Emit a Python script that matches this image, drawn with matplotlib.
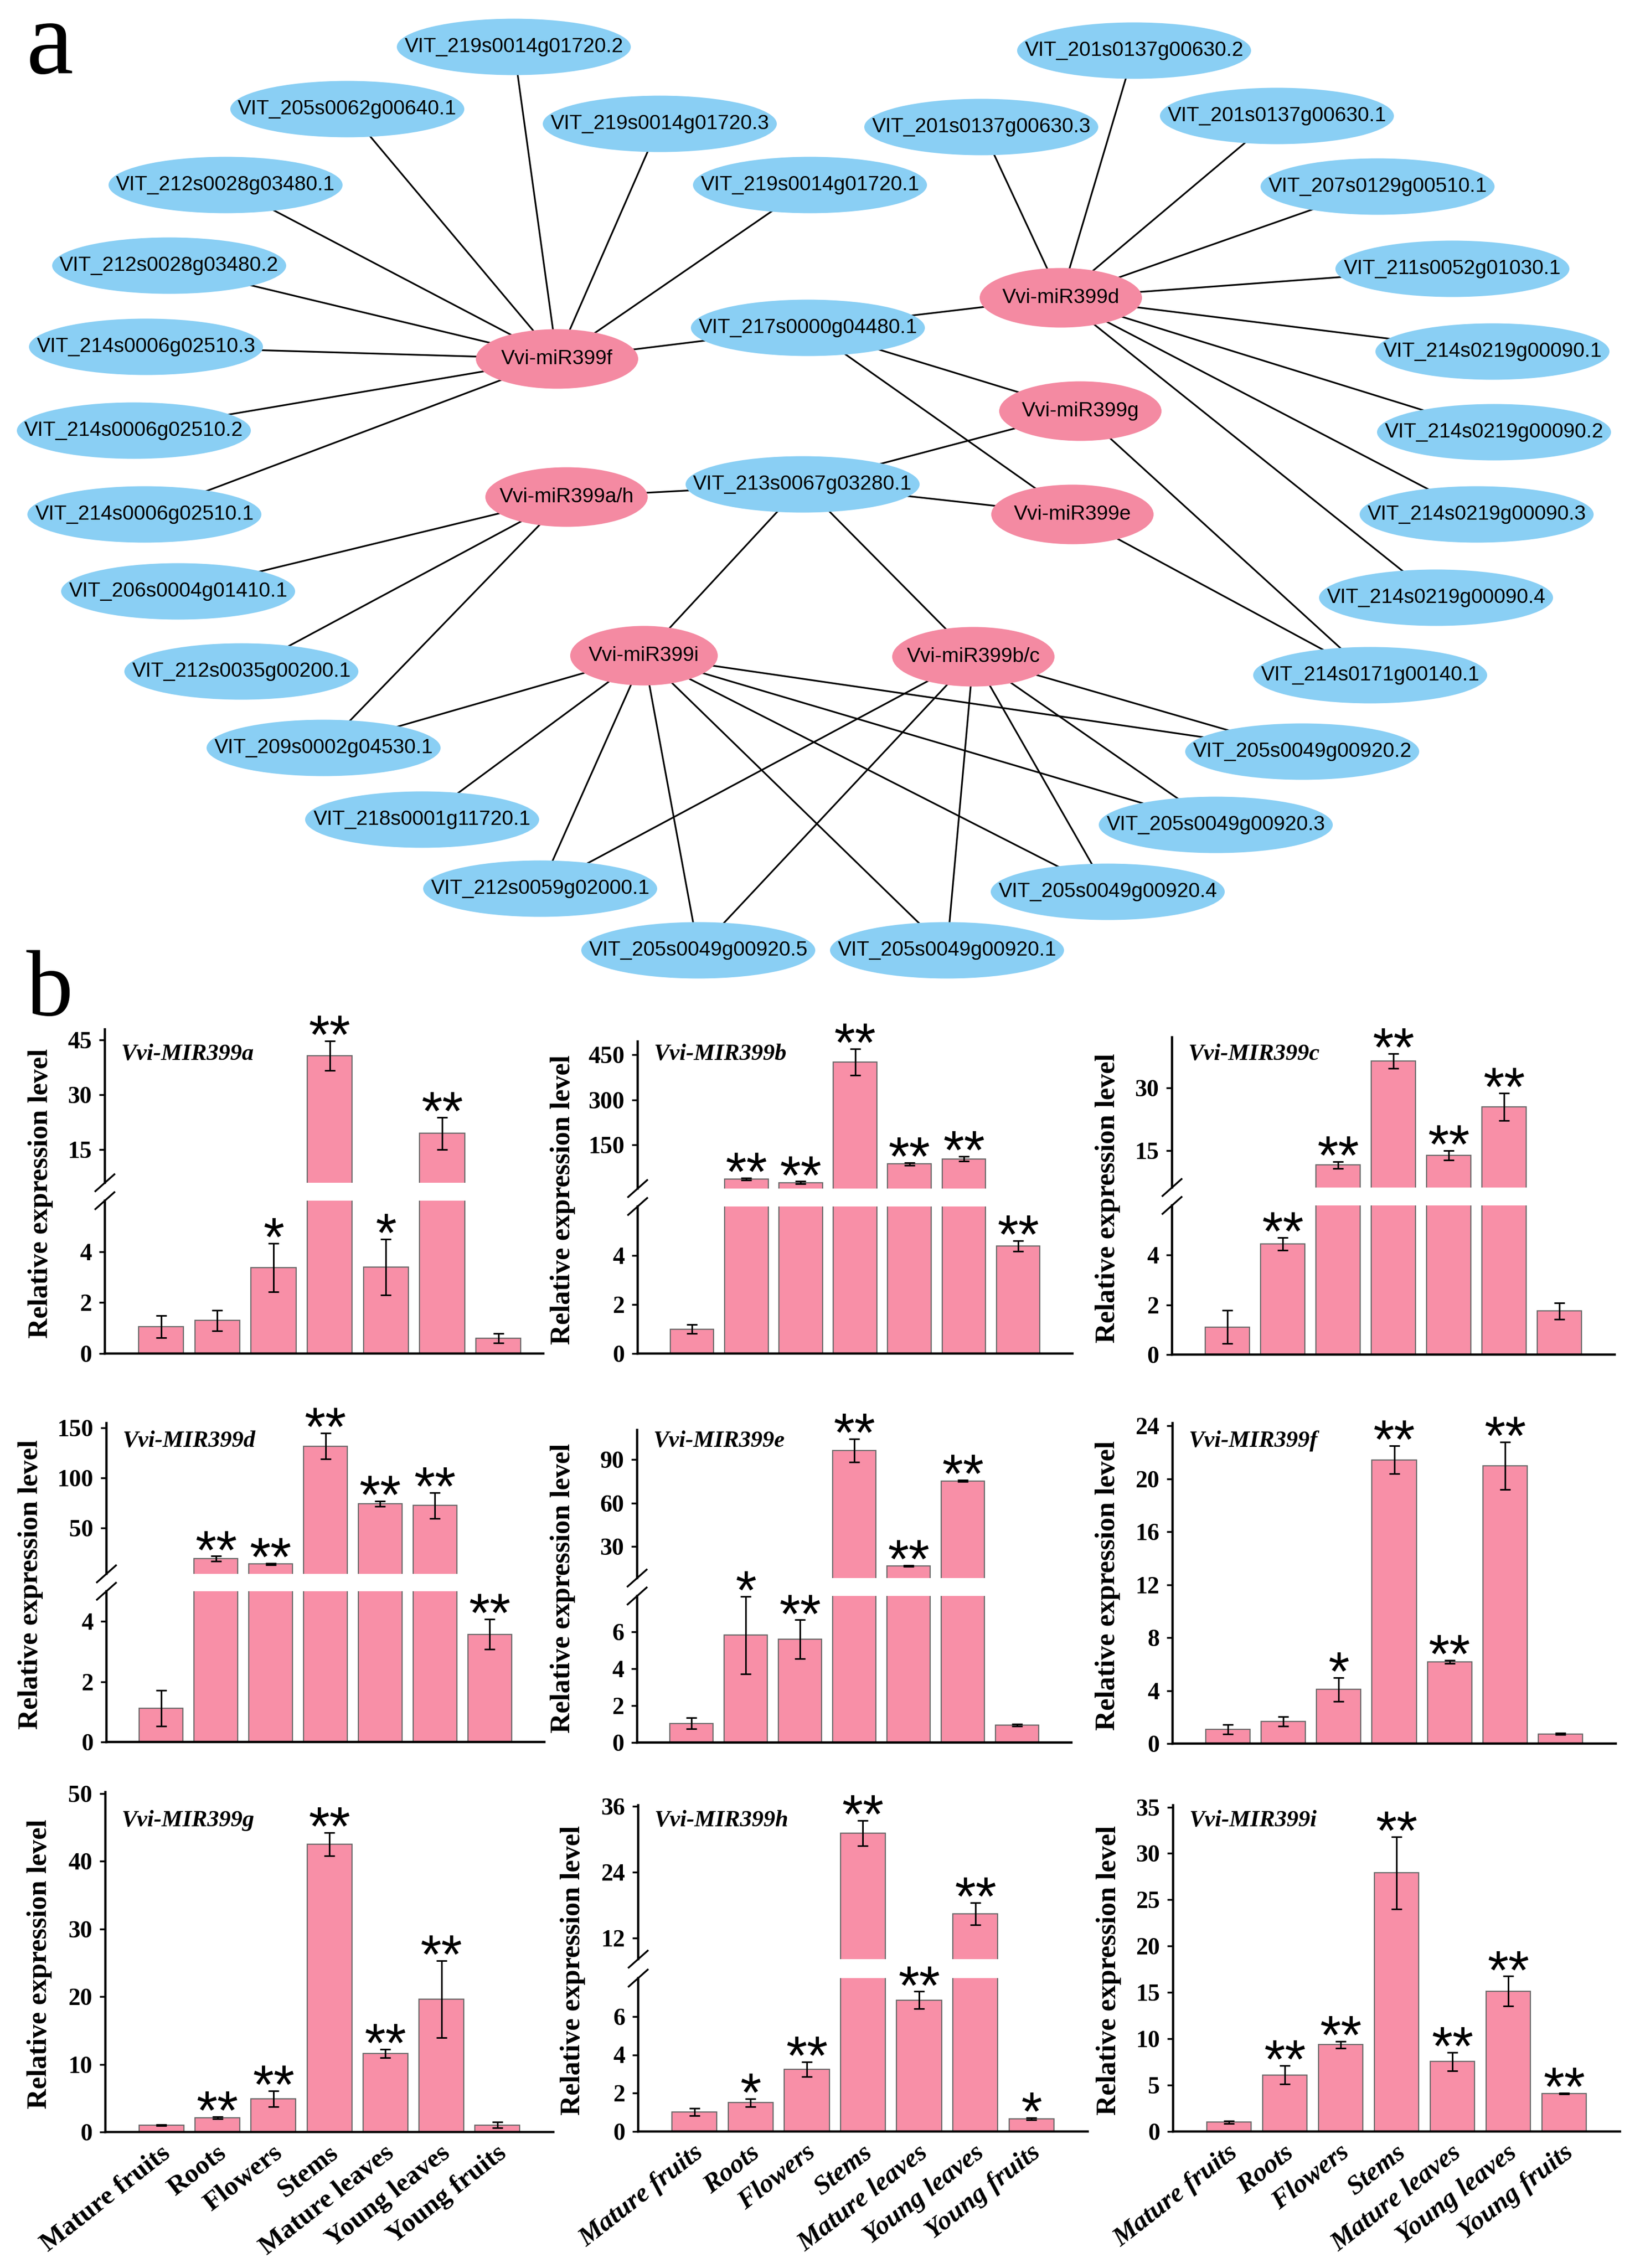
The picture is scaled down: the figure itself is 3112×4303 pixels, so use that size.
import matplotlib
matplotlib.use('Agg')
import matplotlib.pyplot as plt
from matplotlib.patches import Ellipse
from matplotlib.lines import Line2D
from matplotlib import font_manager

W, H = 3112, 4303
NET_H = 1870

# ---------------- (a) miRNA / target network ----------------
mirnas = ['Vvi-miR399f', 'Vvi-miR399d', 'Vvi-miR399g', 'Vvi-miR399a/h',
          'Vvi-miR399e', 'Vvi-miR399i', 'Vvi-miR399b/c']
targets = ['VIT_219s0014g01720.2', 'VIT_205s0062g00640.1', 'VIT_219s0014g01720.3',
           'VIT_212s0028g03480.1', 'VIT_219s0014g01720.1', 'VIT_212s0028g03480.2',
           'VIT_214s0006g02510.3', 'VIT_214s0006g02510.2', 'VIT_214s0006g02510.1',
           'VIT_217s0000g04480.1', 'VIT_213s0067g03280.1', 'VIT_206s0004g01410.1',
           'VIT_212s0035g00200.1', 'VIT_209s0002g04530.1', 'VIT_218s0001g11720.1',
           'VIT_212s0059g02000.1', 'VIT_205s0049g00920.5', 'VIT_205s0049g00920.1',
           'VIT_205s0049g00920.4', 'VIT_205s0049g00920.3', 'VIT_205s0049g00920.2',
           'VIT_214s0171g00140.1', 'VIT_214s0219g00090.4', 'VIT_214s0219g00090.3',
           'VIT_214s0219g00090.2', 'VIT_214s0219g00090.1', 'VIT_211s0052g01030.1',
           'VIT_207s0129g00510.1', 'VIT_201s0137g00630.1', 'VIT_201s0137g00630.2',
           'VIT_201s0137g00630.3']
links = {
    'Vvi-miR399f': ['VIT_219s0014g01720.2', 'VIT_205s0062g00640.1', 'VIT_219s0014g01720.3',
                    'VIT_212s0028g03480.1', 'VIT_219s0014g01720.1', 'VIT_212s0028g03480.2',
                    'VIT_214s0006g02510.3', 'VIT_214s0006g02510.2', 'VIT_214s0006g02510.1',
                    'VIT_217s0000g04480.1'],
    'Vvi-miR399d': ['VIT_217s0000g04480.1', 'VIT_201s0137g00630.3', 'VIT_201s0137g00630.2',
                    'VIT_201s0137g00630.1', 'VIT_207s0129g00510.1', 'VIT_211s0052g01030.1',
                    'VIT_214s0219g00090.1', 'VIT_214s0219g00090.2', 'VIT_214s0219g00090.3',
                    'VIT_214s0219g00090.4'],
    'Vvi-miR399g': ['VIT_217s0000g04480.1', 'VIT_213s0067g03280.1', 'VIT_214s0171g00140.1'],
    'Vvi-miR399e': ['VIT_217s0000g04480.1', 'VIT_213s0067g03280.1', 'VIT_214s0171g00140.1'],
    'Vvi-miR399a/h': ['VIT_213s0067g03280.1', 'VIT_206s0004g01410.1', 'VIT_212s0035g00200.1',
                      'VIT_209s0002g04530.1'],
    'Vvi-miR399i': ['VIT_213s0067g03280.1', 'VIT_209s0002g04530.1', 'VIT_218s0001g11720.1',
                    'VIT_212s0059g02000.1', 'VIT_205s0049g00920.5', 'VIT_205s0049g00920.1',
                    'VIT_205s0049g00920.4', 'VIT_205s0049g00920.3', 'VIT_205s0049g00920.2'],
    'Vvi-miR399b/c': ['VIT_213s0067g03280.1', 'VIT_212s0059g02000.1', 'VIT_205s0049g00920.5',
                      'VIT_205s0049g00920.1', 'VIT_205s0049g00920.4', 'VIT_205s0049g00920.3',
                      'VIT_205s0049g00920.2'],
}

# node layout (pixels from top-left)
mirna_xy = [(1057, 681), (2013, 565), (2050, 780), (1075, 943),
            (2035, 976), (1222, 1244), (1847, 1246)]
target_xy = [(975, 89), (659, 207), (1252, 235), (428, 351), (1537, 351), (321, 504),
             (277, 658), (254, 817), (274, 976), (1533, 622), (1523, 919), (338, 1122),
             (458, 1274), (614, 1419), (801, 1555), (1025, 1686), (1325, 1803),
             (1797, 1803), (2102, 1692), (2307, 1565), (2471, 1426), (2600, 1281),
             (2725, 1134), (2802, 976), (2835, 820), (2832, 667), (2756, 510),
             (2614, 354), (2423, 220), (2152, 96), (1862, 241)]

# ---------------- (b) relative expression ----------------
tissues = ['Mature fruits', 'Roots', 'Flowers', 'Stems', 'Mature leaves',
           'Young leaves', 'Young fruits']
genes = ['Vvi-MIR399a', 'Vvi-MIR399b', 'Vvi-MIR399c', 'Vvi-MIR399d', 'Vvi-MIR399e',
         'Vvi-MIR399f', 'Vvi-MIR399g', 'Vvi-MIR399h', 'Vvi-MIR399i']

mir399a = [1.05, 1.30, 3.37, 40.7, 3.40, 19.4, 0.60]
err_a = [0.43, 0.40, 0.95, 4.0, 1.1, 4.4, 0.18]
sig_a = ['', '', '*', '**', '*', '**', '']
mir399b = [1.0, 36, 24, 425, 86, 103, 4.39]
err_b = [0.18, 3, 4, 44, 5, 8, 0.22]
sig_b = ['', '**', '**', '**', '**', '**', '**']
mir399c = [1.11, 4.45, 11.5, 36.4, 13.8, 25.4, 1.75]
err_c = [0.67, 0.25, 0.8, 1.8, 1.1, 3.3, 0.33]
sig_c = ['', '**', '**', '**', '**', '**', '']
mir399d = [1.12, 19.2, 13.9, 131.6, 74.1, 72.2, 3.57]
err_d = [0.6, 2.5, 0.8, 13, 2.5, 13, 0.5]
sig_d = ['', '**', '**', '**', '**', '**', '**']
mir399e = [1.03, 5.82, 5.6, 96.2, 16.6, 75.3, 0.95]
err_e = [0.3, 2.1, 1.05, 8, 0.5, 0.6, 0.05]
sig_e = ['', '*', '**', '**', '**', '**', '']
mir399f = [1.07, 1.68, 4.08, 21.43, 6.18, 20.97, 0.73]
err_f = [0.35, 0.35, 0.9, 1.05, 0.12, 1.8, 0.05]
sig_f = ['', '', '*', '**', '**', '**', '']
mir399g = [1.0, 2.1, 4.9, 42.5, 11.6, 19.6, 1.05]
err_g = [0.1, 0.15, 1.15, 1.7, 0.6, 5.7, 0.45]
sig_g = ['', '**', '**', '**', '**', '**', '']
mir399h = [1.02, 1.5, 3.25, 31.1, 6.85, 16.45, 0.66]
err_h = [0.2, 0.2, 0.38, 2.3, 0.45, 2.0, 0.05]
sig_h = ['', '*', '**', '**', '**', '**', '*']
mir399i = [1.01, 6.09, 9.36, 27.9, 7.55, 15.15, 4.1]
err_i = [0.15, 1.0, 0.35, 3.9, 1.0, 1.6, 0.05]
sig_i = ['', '**', '**', '**', '**', '**', '**']

values = [mir399a, mir399b, mir399c, mir399d, mir399e, mir399f, mir399g, mir399h, mir399i]
errors = [err_a, err_b, err_c, err_d, err_e, err_f, err_g, err_h, err_i]
sigs = [sig_a, sig_b, sig_c, sig_d, sig_e, sig_f, sig_g, sig_h, sig_i]
upper_ticks = [[15, 30, 45], [150, 300, 450], [15, 30], [50, 100, 150], [30, 60, 90],
               None, None, [12, 24, 36], None]
lower_ticks = [[0, 2, 4], [0, 2, 4], [0, 2, 4], [0, 2, 4], [0, 2, 4, 6],
               [0, 4, 8, 12, 16, 20, 24], [0, 10, 20, 30, 40, 50], [0, 2, 4, 6],
               [0, 5, 10, 15, 20, 25, 30, 35]]

# left, right, top, zero (px), break (px), upper ylim, lower ylim, x right, ylabel offset
layout = [
    (199, 1031, 1953, 2568, (2244, 2278), (5.9, 47.9), (0, 6.0), 6.8, 122),
    (1210, 2035, 1976, 2568, (2255, 2289), (4.3, 494), (0, 6.0), 7.0, 142),
    (2224, 3064, 1968, 2570, (2253, 2287), (6.1, 42.1), (0, 6.0), 7.0, 122),
    (202, 1033, 2700, 3305, (2986, 3019), (4.0, 154.5), (0, 5.0), 7.0, 144),
    (1209, 2033, 2713, 3306, (2994, 3028), (8.2, 110.4), (0, 7.95), 7.0, 141),
    (2225, 3066, 2700, 3308, None, None, (0, 24.2), 7.0, 123),
    (200, 1050, 3400, 4045, None, None, (0, 50.2), 7.0, 125),
    (1211, 2064, 3425, 4044, (3717, 3753), (8.2, 36.2), (0, 8.0), 7.0, 124),
    (2226, 3074, 3425, 4044, None, None, (0, 35.2), 7.0, 122),
]
title_y = [2000, 2734, 3454]

BLUE = '#8ACFF4'
NODE_PINK = '#F48AA2'
BAR_PINK = '#F88FA7'

plt.rcParams['font.family'] = 'Liberation Serif'
plt.rcParams['font.weight'] = 'bold'

names = {f.name for f in font_manager.fontManager.ttflist}
if 'Liberation Sans Narrow' in names:
    net_font, net_size = ['Liberation Sans Narrow', 'DejaVu Sans'], 33
else:
    net_font, net_size = ['Liberation Sans', 'DejaVu Sans'], 28

fig = plt.figure(figsize=(W / 100, H / 100), dpi=100)
fig.patch.set_facecolor('white')


def rect(l, r, t, b):
    return [l / W, 1 - b / H, (r - l) / W, (b - t) / H]


# network
axn = fig.add_axes([0, 1 - NET_H / H, 1, NET_H / H])
axn.set_xlim(0, W)
axn.set_ylim(NET_H, 0)
axn.axis('off')
pos = dict(zip(mirnas, mirna_xy))
pos.update(zip(targets, target_xy))
for m, tl in links.items():
    for tg in tl:
        (x1, y1), (x2, y2) = pos[m], pos[tg]
        axn.plot([x1, x2], [y1, y2], color='black', lw=2.3, zorder=1)
for tg in targets:
    axn.add_patch(Ellipse(pos[tg], 444, 107, facecolor=BLUE, edgecolor='none', zorder=2))
    axn.text(*pos[tg], tg, ha='center', va='center', family=net_font, fontsize=net_size,
             fontweight='normal', zorder=3)
for m in mirnas:
    w = 280 if m == 'Vvi-miR399i' else 308
    axn.add_patch(Ellipse(pos[m], w, 113, facecolor=NODE_PINK, edgecolor='none', zorder=2))
    axn.text(*pos[m], m, ha='center', va='center', family=net_font, fontsize=net_size,
             fontweight='normal', zorder=3)

fig.text(50 / W, 1 - 139 / H, 'a', fontsize=145, fontweight='normal', ha='left', va='baseline')
fig.text(50 / W, 1 - 1926 / H, 'b', fontsize=128, fontweight='normal', ha='left', va='baseline')


def style_axis(ax, ticks, ylim, xr, bottom):
    for s in ['top', 'right']:
        ax.spines[s].set_visible(False)
    ax.spines['left'].set_linewidth(3.2)
    ax.spines['bottom'].set_linewidth(3.2)
    ax.spines['bottom'].set_visible(bottom)
    ax.set_xlim(-1, xr)
    ax.set_ylim(*ylim)
    ax.set_yticks(ticks)
    ax.set_xticks([])
    ax.tick_params(axis='y', direction='out', length=8, width=2.5, pad=10, labelsize=33)
    ax.patch.set_alpha(0)


def draw_bars(ax, idx, vals):
    ax.bar(idx, [vals[i] for i in idx], width=0.8, color=BAR_PINK, edgecolor='#6a6a6a',
           linewidth=1.6, zorder=2)


def draw_err(ax, idx, vals, errs, sig):
    if not idx:
        return
    ax.errorbar(idx, [vals[i] for i in idx], yerr=[errs[i] for i in idx], fmt='none',
                ecolor='black', elinewidth=2.2, capsize=7.5, capthick=2.2, zorder=3)
    for i in idx:
        if sig[i]:
            ax.annotate(sig[i], (i, vals[i] + errs[i]), xytext=(0, -17),
                        textcoords='offset points', ha='center', va='baseline',
                        fontsize=74, family='Liberation Sans', fontweight='normal',
                        annotation_clip=False)


for k in range(9):
    l, r, t, z, brk, yl_up, yl_lo, xr, loff = layout[k]
    vals, errs, sig = values[k], errors[k], sigs[k]
    lo_top = yl_lo[1]
    if brk:
        ub, lt = brk
        ax_up = fig.add_axes(rect(l, r, t, ub))
        ax_lo = fig.add_axes(rect(l, r, lt, z))
        style_axis(ax_up, upper_ticks[k], yl_up, xr, False)
        style_axis(ax_lo, lower_ticks[k], yl_lo, xr, True)
        hi = [i for i in range(7) if vals[i] > lo_top]
        lo = [i for i in range(7) if vals[i] <= lo_top]
        draw_bars(ax_up, hi, vals)
        draw_bars(ax_lo, list(range(7)), vals)
        draw_err(ax_up, hi, vals, errs, sig)
        draw_err(ax_lo, lo, vals, errs, sig)
        for yb in (ub, lt):
            fig.add_artist(Line2D([(l - 18) / W, (l + 18) / W],
                                  [1 - (yb + 16) / H, 1 - (yb - 16) / H],
                                  color='black', lw=2.5, transform=fig.transFigure))
    else:
        ax_lo = fig.add_axes(rect(l, r, t, z))
        style_axis(ax_lo, lower_ticks[k], yl_lo, xr, True)
        draw_bars(ax_lo, list(range(7)), vals)
        draw_err(ax_lo, list(range(7)), vals, errs, sig)

    row = k // 3
    fig.text((l + 30) / W, 1 - title_y[row] / H, genes[k], fontsize=32, fontweight='bold',
             style='italic', ha='left', va='center')
    fig.text((l - loff) / W, 1 - ((t + z) / 2 + 4) / H, 'Relative expression level',
             rotation=90, fontsize=38, fontweight='bold', ha='center', va='center')

    if row == 2:
        st = 'normal' if k == 6 else 'italic'
        for i, name in enumerate(tissues):
            ax_lo.annotate(name, (i, 0), xycoords=('data', 'axes fraction'),
                           xytext=(-2, -12), textcoords='offset points', rotation=38,
                           rotation_mode='anchor', ha='right', va='top', fontsize=37,
                           fontweight='bold', style=st, annotation_clip=False)

fig.savefig('out.png', dpi=100, facecolor='white')
